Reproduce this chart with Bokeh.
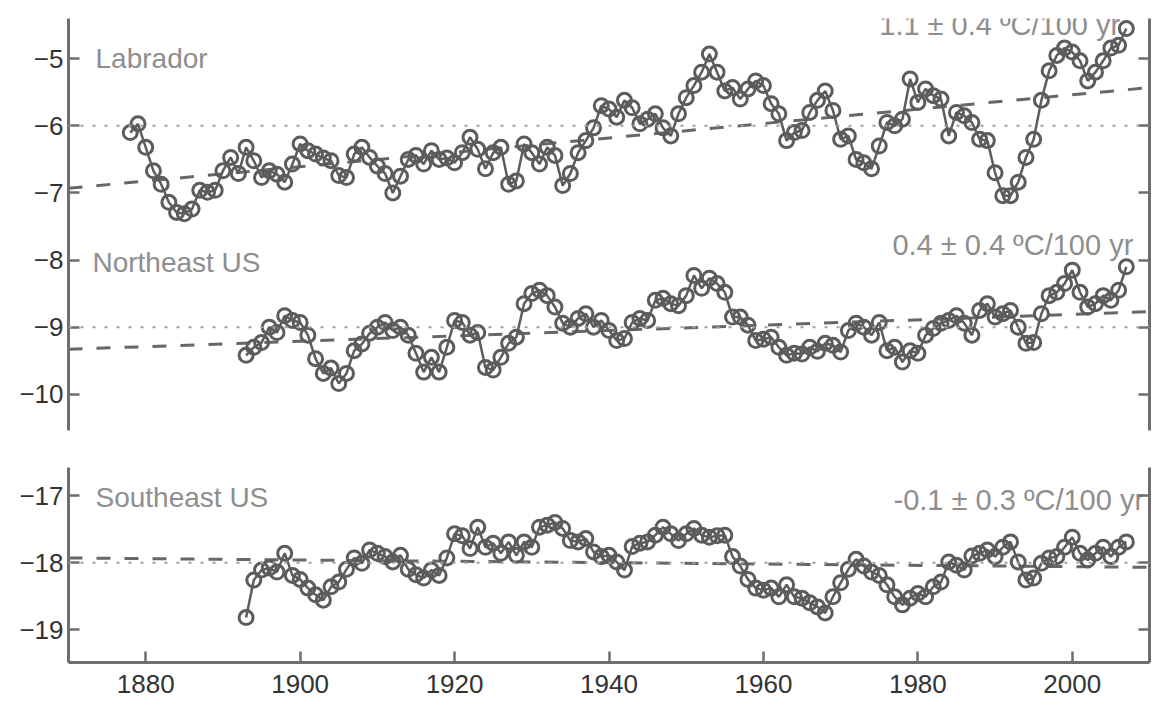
from bokeh.plotting import figure
from bokeh.layouts import column
from bokeh.models import LinearAxis, Span, Range1d, FixedTicker, CustomJSTickFormatter
from bokeh.embed import file_html
from bokeh.resources import INLINE
from bokeh.core.properties import value

# ---------------- data ----------------
years_lab = list(range(1878, 2008))
labrador = [
    -6.10, -5.97, -6.32, -6.67, -6.87, -7.14, -7.29, -7.31, -7.24, -6.96,
    -6.99, -6.96, -6.67, -6.47, -6.71, -6.32, -6.52, -6.77, -6.67, -6.72,
    -6.84, -6.57, -6.27, -6.37, -6.42, -6.48, -6.52, -6.74, -6.77, -6.42,
    -6.32, -6.47, -6.60, -6.71, -7.00, -6.75, -6.50, -6.44, -6.57, -6.37,
    -6.50, -6.48, -6.55, -6.40, -6.17, -6.35, -6.64, -6.40, -6.32, -6.87,
    -6.82, -6.27, -6.40, -6.57, -6.32, -6.44, -6.89, -6.71, -6.40, -6.22,
    -6.03, -5.70, -5.75, -5.87, -5.62, -5.73, -5.97, -5.90, -5.82, -6.03,
    -6.15, -5.82, -5.58, -5.40, -5.20, -4.93, -5.20, -5.48, -5.43, -5.60,
    -5.45, -5.33, -5.40, -5.67, -5.82, -6.22, -6.10, -6.07, -5.80, -5.62,
    -5.48, -5.77, -6.20, -6.15, -6.50, -6.55, -6.64, -6.30, -5.95, -6.00,
    -5.90, -5.30, -5.65, -5.45, -5.55, -5.60, -6.15, -5.80, -5.85, -5.95,
    -6.20, -6.22, -6.70, -7.04, -7.04, -6.84, -6.47, -6.20, -5.62, -5.18,
    -4.95, -4.84, -4.90, -5.03, -5.33, -5.20, -5.03, -4.84, -4.80, -4.55,
]

years_us = list(range(1893, 2008))
northeast = [
    -9.42, -9.30, -9.23, -9.00, -9.08, -8.83, -8.90, -8.93, -9.12, -9.47,
    -9.69, -9.61, -9.84, -9.69, -9.35, -9.25, -9.09, -9.00, -8.93, -9.05,
    -9.00, -9.12, -9.39, -9.67, -9.45, -9.67, -9.30, -8.90, -8.93, -9.12,
    -9.08, -9.60, -9.64, -9.45, -9.24, -9.15, -8.65, -8.50, -8.45, -8.53,
    -8.70, -8.94, -9.00, -8.87, -8.80, -9.00, -8.90, -9.05, -9.20, -9.17,
    -8.93, -8.87, -8.90, -8.60, -8.57, -8.65, -8.68, -8.53, -8.23, -8.42,
    -8.27, -8.35, -8.48, -8.85, -8.85, -8.97, -9.20, -9.18, -9.15, -9.30,
    -9.42, -9.39, -9.40, -9.30, -9.36, -9.24, -9.27, -9.37, -9.05, -8.94,
    -9.00, -9.12, -8.93, -9.35, -9.30, -9.52, -9.35, -9.39, -9.12, -9.02,
    -8.94, -8.90, -8.83, -8.94, -9.12, -8.75, -8.65, -8.85, -8.80, -8.75,
    -9.00, -9.24, -9.23, -8.80, -8.53, -8.48, -8.35, -8.15, -8.48, -8.70,
    -8.65, -8.53, -8.60, -8.45, -8.10,
]
southeast = [
    -18.82, -18.26, -18.11, -18.08, -18.14, -17.86, -18.19, -18.25, -18.38, -18.48,
    -18.56, -18.36, -18.29, -18.10, -17.93, -18.01, -17.81, -17.86, -17.91, -17.99,
    -17.89, -18.10, -18.18, -18.23, -18.11, -18.19, -17.93, -17.57, -17.60, -17.79,
    -17.47, -17.77, -17.71, -17.86, -17.69, -17.89, -17.69, -17.77, -17.47, -17.44,
    -17.40, -17.49, -17.67, -17.69, -17.64, -17.84, -17.91, -17.89, -17.99, -18.11,
    -17.76, -17.71, -17.69, -17.59, -17.47, -17.57, -17.67, -17.57, -17.49, -17.59,
    -17.62, -17.60, -17.59, -17.91, -18.05, -18.25, -18.38, -18.41, -18.38, -18.51,
    -18.33, -18.51, -18.53, -18.60, -18.66, -18.75, -18.51, -18.30, -18.10, -17.95,
    -18.05, -18.14, -18.19, -18.33, -18.51, -18.63, -18.53, -18.46, -18.51, -18.36,
    -18.29, -17.99, -18.04, -18.11, -17.90, -17.86, -17.81, -17.91, -17.77, -17.69,
    -17.99, -18.26, -18.23, -18.01, -17.93, -17.91, -17.77, -17.62, -17.86, -17.96,
    -17.86, -17.77, -17.91, -17.77, -17.69,
]

trend_years = [1870, 2010]
labrador_trend = [-6.93, -5.43]
northeast_trend = [-9.33, -8.77]
southeast_trend = [-17.93, -18.07]

labrador_ref = -6.0
northeast_ref = -9.0
southeast_ref = -18.0

region_names = ["Labrador", "Northeast US", "Southeast US"]
trend_texts = ["1.1 \u00b1 0.4 \u00baC/100 yr", "0.4 \u00b1 0.4 \u00baC/100 yr", "-0.1 \u00b1 0.3 \u00baC/100 yr"]

x_ticks = [1880, 1900, 1920, 1940, 1960, 1980, 2000]
top_y_ticks = [-10, -9, -8, -7, -6, -5]
bottom_y_ticks = [-19, -18, -17]

# ---------------- style ----------------
FONT = "Liberation Sans"
DATA_C = "#5c5c5c"
AXIS_C = "#6e6e6e"
TICKLAB_C = "#333333"
LABEL_C = "#8e8e8e"
TREND_C = "#676767"
REF_C = "#a0a0a0"
LABEL_SIZE = "28px"
TREND_SIZE = "29px"

minus_fmt = CustomJSTickFormatter(code="return (tick < 0 ? '\\u2212' : '') + Math.abs(tick).toFixed(0);")
blank_fmt = CustomJSTickFormatter(code="return '';")


def style_axis(ax, show_labels=True):
    ax.axis_line_color = AXIS_C
    ax.axis_line_width = 3
    ax.major_tick_line_color = AXIS_C
    ax.major_tick_line_width = 2.5
    ax.major_tick_in = 11
    ax.major_tick_out = 0
    ax.minor_tick_line_color = None
    ax.major_label_text_font = FONT
    ax.major_label_text_color = TICKLAB_C
    ax.major_label_text_font_size = "26px"
    if not show_labels:
        ax.formatter = blank_fmt
        ax.major_label_standoff = 0


def base_fig(height, y0, y1, b_top, b_bottom, with_x):
    p = figure(
        width=1158, height=height,
        x_range=Range1d(1870, 2010), y_range=Range1d(y0, y1),
        output_backend="svg", toolbar_location=None,
        x_axis_location="below" if with_x else None,
        y_axis_location="left",
        min_border_left=68, min_border_right=9,
        min_border_top=b_top, min_border_bottom=b_bottom,
    )
    p.outline_line_color = None
    p.grid.visible = False
    p.background_fill_color = "white"
    p.border_fill_color = "white"
    return p


def add_series(p, xs, ys):
    p.line(xs, ys, line_color=DATA_C, line_width=2.5)
    p.scatter(xs, ys, marker="circle", size=14, line_color=DATA_C, line_width=3, fill_color=None)


# ---------------- top panel ----------------
p1 = base_fig(440, -10.54, -4.40, 18, 10, False)
style_axis(p1.yaxis[0])
p1.yaxis[0].ticker = FixedTicker(ticks=top_y_ticks)
p1.yaxis[0].formatter = minus_fmt
p1.yaxis[0].major_label_standoff = 5
r1 = LinearAxis(ticker=FixedTicker(ticks=top_y_ticks))
style_axis(r1, show_labels=False)
p1.add_layout(r1, "right")

for lvl in (labrador_ref, northeast_ref):
    p1.add_layout(Span(location=lvl, dimension="width", line_color=REF_C,
                       line_width=2, line_dash="3 9"))

p1.text(x=[1873.5, 1873.1], y=[-5.0, -8.04], text=region_names[:2],
        text_font=value(FONT), text_font_size=LABEL_SIZE, text_color=LABEL_C,
        text_align="left", text_baseline="middle")
p1.text(x=[2006.2], y=[-4.50], text=[trend_texts[0]],
        text_font=value(FONT), text_font_size=TREND_SIZE, text_color=LABEL_C,
        text_align="right", text_baseline="alphabetic")
p1.text(x=[2007.9], y=[-7.78], text=[trend_texts[1]],
        text_font=value(FONT), text_font_size=TREND_SIZE, text_color=LABEL_C,
        text_align="right", text_baseline="middle")

p1.line(trend_years, labrador_trend, line_color=TREND_C, line_width=3, line_dash="14 14")
p1.line(trend_years, northeast_trend, line_color=TREND_C, line_width=3, line_dash="14 14")
add_series(p1, years_lab, labrador)
add_series(p1, years_us, northeast)

# ---------------- bottom panel ----------------
p2 = base_fig(265, -19.49, -16.58, 27, 43, True)
style_axis(p2.yaxis[0])
p2.yaxis[0].ticker = FixedTicker(ticks=bottom_y_ticks)
p2.yaxis[0].formatter = minus_fmt
p2.yaxis[0].major_label_standoff = 5
style_axis(p2.xaxis[0])
p2.xaxis[0].ticker = FixedTicker(ticks=x_ticks)
p2.xaxis[0].major_label_standoff = 12
r2 = LinearAxis(ticker=FixedTicker(ticks=bottom_y_ticks))
style_axis(r2, show_labels=False)
p2.add_layout(r2, "right")

p2.add_layout(Span(location=southeast_ref, dimension="width", line_color=REF_C,
                   line_width=2, line_dash="3 9"))
p2.text(x=[1873.5], y=[-17.03], text=[region_names[2]],
        text_font=value(FONT), text_font_size=LABEL_SIZE, text_color=LABEL_C,
        text_align="left", text_baseline="middle")
p2.text(x=[2009.3], y=[-17.07], text=[trend_texts[2]],
        text_font=value(FONT), text_font_size=TREND_SIZE, text_color=LABEL_C,
        text_align="right", text_baseline="middle")
p2.line(trend_years, southeast_trend, line_color=TREND_C, line_width=3, line_dash="14 14")
add_series(p2, years_us, southeast)

layout = column(p1, p2, spacing=0)
open("out.html", "w").write(file_html(layout, INLINE))
